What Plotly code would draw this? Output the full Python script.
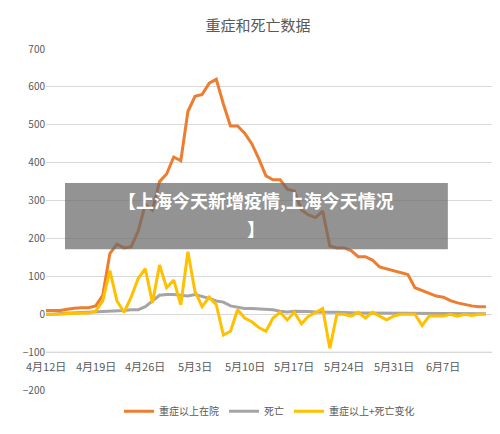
import pandas as pd
import plotly.graph_objects as go

# data
dates = pd.date_range("2022-04-12", periods=63, freq="D")
severe = [10, 10, 10, 13, 16, 17, 17, 22, 50, 160, 185, 175, 178, 220, 290, 275,
          350, 370, 415, 405, 535, 575, 580, 610, 620, 555, 497, 497, 478, 450, 410,
          365, 355, 355, 330, 325, 275, 262, 255, 272, 180, 175, 175, 168, 152, 152,
          143, 125, 120, 115, 110, 105, 70, 62, 55, 48, 45, 36, 30, 25, 22, 20, 20]
deaths = [0, 0, 2, 3, 3, 5, 5, 6, 8, 8, 8, 10, 12, 12, 20, 35, 50, 52, 52, 50, 48,
          52, 48, 42, 35, 32, 22, 18, 15, 15, 14, 12, 12, 8, 6, 8, 8, 7, 6, 5, 5, 5,
          4, 4, 3, 3, 3, 3, 2, 2, 2, 2, 2, 2, 1, 1, 1, 1, 1, 1, 1, 1, 1]
change = [0, 0, 0, 2, 3, 2, 3, 8, 35, 115, 35, 5, 45, 95, 120, 30, 130, 70, 90, 25,
          165, 60, 20, 45, 25, -55, -45, 12, -10, -20, -35, -45, -10, 5, -15, 5, -25,
          -5, 5, 15, -90, 0, 0, -5, 5, -10, 5, -5, -15, -5, 0, 0, 0, -30, -5, -5, -5,
          0, -5, 0, -3, 0, 0]
tick_dates = ["2022-04-12", "2022-04-19", "2022-04-26", "2022-05-03", "2022-05-10",
              "2022-05-17", "2022-05-24", "2022-05-31", "2022-06-07"]
tick_labels = ["4月12日", "4月19日", "4月26日", "5月3日", "5月10日",
               "5月17日", "5月24日", "5月31日", "6月7日"]

fig = go.Figure()
fig.add_trace(go.Scatter(x=dates, y=severe, mode="lines", name="重症以上在院",
                         line=dict(color="#ED7D31", width=3)))
fig.add_trace(go.Scatter(x=dates, y=deaths, mode="lines", name="死亡",
                         line=dict(color="#A5A5A5", width=3)))
fig.add_trace(go.Scatter(x=dates, y=change, mode="lines", name="重症以上+死亡变化",
                         line=dict(color="#FFC000", width=3)))

# x axis sits at -100
fig.add_hline(y=-100, line=dict(color="#D9D9D9", width=1))
for d, t in zip(tick_dates, tick_labels):
    fig.add_annotation(x=d, y=-100, text=t, showarrow=False, yanchor="top", yshift=-4,
                       font=dict(size=11, color="#595959"))

# overlay banner
fig.add_shape(type="rect", xref="paper", yref="paper", x0=0.0425, x1=0.899,
              y0=0.413, y1=0.607, fillcolor="rgba(105,105,105,0.72)", line_width=0)
fig.add_annotation(xref="paper", yref="paper", x=0.47, y=0.557, showarrow=False,
                   text="<b>【上海今天新增疫情,上海今天情况</b>",
                   font=dict(size=18, color="white", family="Noto Sans CJK SC"))
fig.add_annotation(xref="paper", yref="paper", x=0.47, y=0.475, showarrow=False,
                   text="<b>】</b>",
                   font=dict(size=18, color="white", family="Noto Sans CJK SC"))

fig.update_xaxes(range=["2022-04-12", "2022-06-14"], showticklabels=False,
                 showgrid=False, zeroline=False, showline=False)
fig.update_yaxes(range=[-200, 700], dtick=100, gridcolor="#D9D9D9", zeroline=False,
                 tickfont=dict(size=10, color="#595959"))
fig.update_layout(
    width=500, height=434,
    title=dict(text="重症和死亡数据", x=0.5, y=0.958, yanchor="middle",
               font=dict(size=15, color="#595959")),
    font=dict(family="Noto Sans CJK SC"),
    plot_bgcolor="white", paper_bgcolor="white",
    margin=dict(l=38, r=15, t=41, b=52, autoexpand=False),
    legend=dict(orientation="h", x=0.5, xanchor="center", y=-0.02, yanchor="top",
                font=dict(size=10, color="#595959")),
)
fig.write_html("out.html")
